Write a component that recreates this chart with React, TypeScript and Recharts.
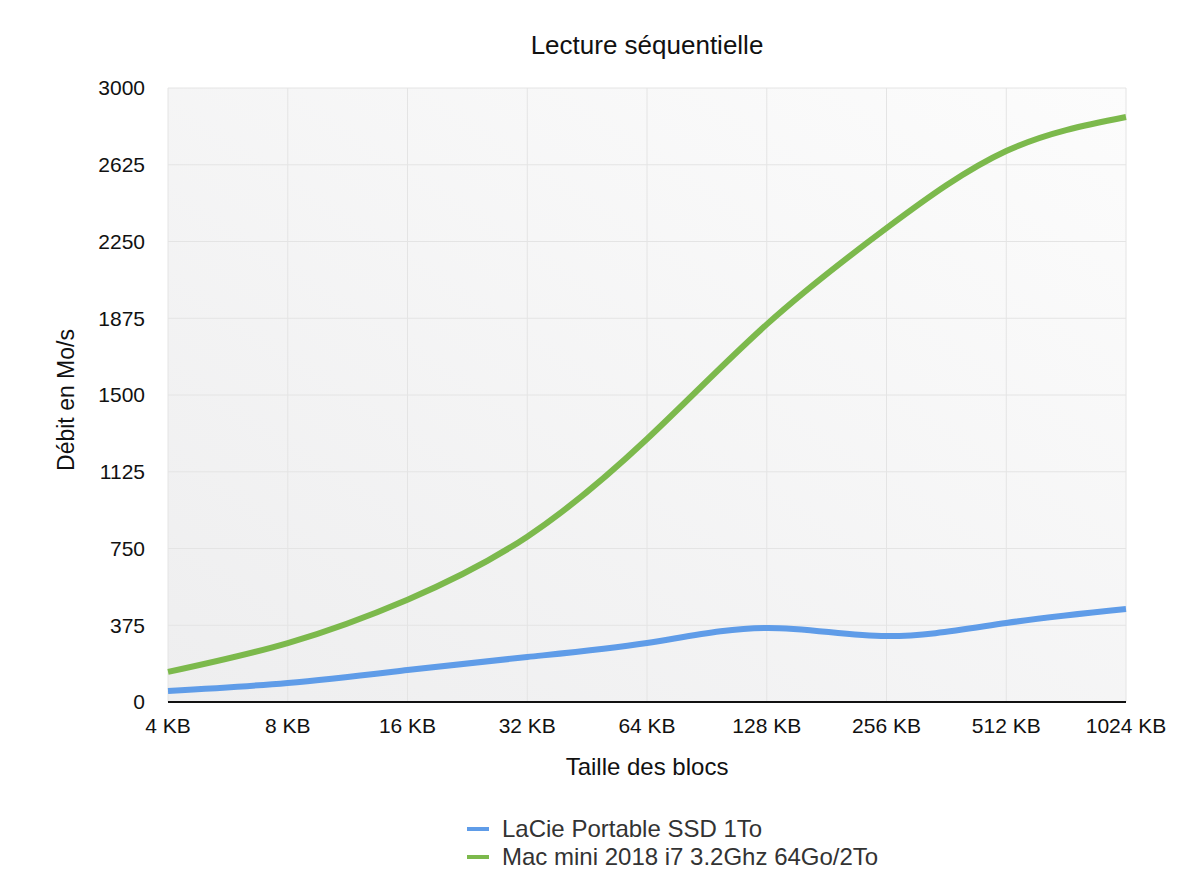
import { LineChart, Line, XAxis, YAxis, CartesianGrid } from "recharts";

const blockSizes = ["4 KB", "8 KB", "16 KB", "32 KB", "64 KB", "128 KB", "256 KB", "512 KB", "1024 KB"];
const lacie = [54, 93, 156, 220, 288, 362, 322, 386, 454];
const macMini = [147, 288, 500, 808, 1285, 1845, 2315, 2692, 2858];
const yTicks = [0, 375, 750, 1125, 1500, 1875, 2250, 2625, 3000];

const series = [
  { key: "lacie", name: "LaCie Portable SSD 1To", color: "#5f9ce8" },
  { key: "mac", name: "Mac mini 2018 i7 3.2Ghz 64Go/2To", color: "#7cb94c" },
];

const data = blockSizes.map((size, i) => ({ size, lacie: lacie[i], mac: macMini[i] }));

const font = "'Liberation Sans', Arial, sans-serif";

export default function App() {
  return (
    <div style={{ position: "absolute", left: 0, top: 0, width: 1200, height: 886, background: "#fff", fontFamily: font }}>
      <div style={{ position: "absolute", top: 29, left: 0, width: 1294, textAlign: "center", fontSize: 26, color: "#111", lineHeight: "32px" }}>
        Lecture séquentielle
      </div>
      <LineChart width={1200} height={886} data={data} margin={{ top: 88, right: 74, bottom: 124, left: 48 }}>
        <defs>
          <linearGradient id="plotBg" x1="0" y1="1" x2="1" y2="0">
            <stop offset="0%" stopColor="#eeeeef" />
            <stop offset="100%" stopColor="#fcfcfc" />
          </linearGradient>
        </defs>
        <CartesianGrid stroke="#e4e4e4" strokeWidth={1} fill="url(#plotBg)" fillOpacity={1} />
        <XAxis
          dataKey="size"
          height={60}
          tickLine={false}
          axisLine={{ stroke: "#111", strokeWidth: 2 }}
          tick={{ fill: "#111", fontSize: 21, fontFamily: font }}
          tickMargin={10}
          interval={0}
        />
        <YAxis
          width={120}
          domain={[0, 3000]}
          ticks={yTicks}
          axisLine={false}
          tickLine={false}
          tick={{ fill: "#111", fontSize: 21, fontFamily: font }}
          tickMargin={17}
          interval={0}
        />
        {series.map((s) => (
          <Line
            key={s.key}
            type="natural"
            dataKey={s.key}
            name={s.name}
            stroke={s.color}
            strokeWidth={6}
            dot={false}
            activeDot={false}
            isAnimationActive={false}
          />
        ))}
      </LineChart>
      <div style={{ position: "absolute", top: 752, left: 0, width: 1294, textAlign: "center", fontSize: 24, color: "#111", lineHeight: "30px" }}>
        Taille des blocs
      </div>
      <div
        style={{
          position: "absolute",
          left: 66,
          top: 400,
          transform: "translate(-50%, -50%) rotate(-90deg)",
          whiteSpace: "nowrap",
          fontSize: 23,
          color: "#111",
        }}
      >
        Débit en Mo/s
      </div>
      <div style={{ position: "absolute", left: 467, top: 815, fontSize: 24, color: "#333", lineHeight: "28px" }}>
        {series.map((s) => (
          <div key={s.key} style={{ display: "flex", alignItems: "center" }}>
            <span style={{ display: "inline-block", width: 22, height: 4, background: s.color, marginRight: 13 }} />
            {s.name}
          </div>
        ))}
      </div>
    </div>
  );
}
